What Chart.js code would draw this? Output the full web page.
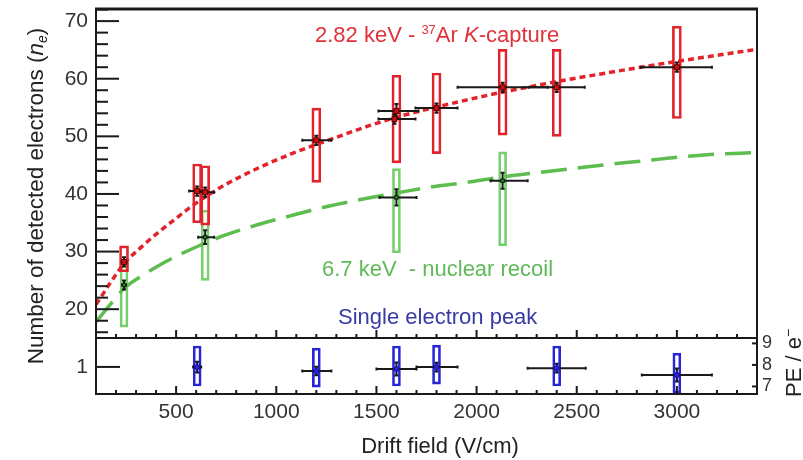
<!DOCTYPE html>
<html><head><meta charset="utf-8">
<script src="https://cdn.jsdelivr.net/npm/chart.js@4/dist/chart.umd.min.js"></script>
<style>html,body{margin:0;padding:0;background:#fff;}canvas{display:block}</style>
</head><body>
<canvas id="c" width="803" height="460"></canvas>
<script>
// ---------------- data ----------------
const xTickValues = [500, 1000, 1500, 2000, 2500, 3000];
const yTickValues = [20, 30, 40, 50, 60, 70];
const ybTickValues = [1];
const yrTickValues = [7, 8, 9];

// 2.82 keV - 37Ar K-capture (red)
const arField   = [240, 605, 645, 1200, 1590, 1600, 1800, 2130, 2400, 3000];
const arNe      = [28.2, 40.5, 40.3, 49.3, 53.0, 54.4, 54.9, 58.5, 58.5, 62.0];
const arFieldLo = [228, 565, 605, 1130, 1510, 1510, 1695, 1905, 2260, 2820];
const arFieldHi = [252, 645, 690, 1275, 1695, 1710, 1905, 2355, 2540, 3175];
const arStat    = [0.8, 0.8, 0.8, 0.8, 0.8, 1.2, 0.8, 0.8, 0.8, 0.8];
const arBoxField = [240, 605, 645, 1200, 1600, 1800, 2130, 2400, 3000];
const arBoxLo    = [26.5, 35.0, 34.6, 42.0, 45.4, 47.0, 50.2, 50.0, 53.1];
const arBoxHi    = [31.0, 45.2, 44.9, 54.9, 60.6, 61.0, 65.1, 65.1, 69.1];

// 6.7 keV - nuclear recoil (green)
const nrField   = [240, 645, 1600, 2130];
const nrNe      = [24.2, 32.5, 39.4, 42.3];
const nrFieldLo = [230, 610, 1515, 2070];
const nrFieldHi = [250, 690, 1700, 2255];
const nrStat    = [0.8, 1.2, 1.4, 1.4];
const nrBoxLo   = [16.9, 25.0, 29.8, 31.0];
const nrBoxHi   = [27.7, 37.2, 44.4, 47.3];

// Single electron peak (blue), PE / e-
const seField   = [605, 1200, 1600, 1800, 2400, 3000];
const sePE      = [7.90, 7.72, 7.81, 7.90, 7.85, 7.53];
const seFieldLo = [585, 1130, 1500, 1700, 2255, 2825];
const seFieldHi = [625, 1275, 1700, 1905, 2545, 3175];
const seStat    = [0.25, 0.2, 0.3, 0.2, 0.2, 0.3];
const seBoxLo   = [7.02, 6.97, 7.02, 7.11, 7.02, 6.69];
const seBoxHi   = [8.88, 8.78, 8.88, 8.92, 8.88, 8.55];

// fitted curves
const curveField = [100, 180, 240, 330, 410, 490, 575, 660, 740, 910, 1070, 1200, 1290, 1460, 1620, 1790, 1950, 2120, 2280, 2480, 2650, 2820, 2980, 3150, 3400];
const curveRed   = [20.8, 25.0, 27.9, 30.9, 33.3, 35.5, 37.8, 39.8, 41.5, 44.5, 46.9, 48.6, 49.7, 51.8, 53.5, 55.0, 56.3, 57.6, 58.7, 60.0, 61.0, 62.0, 62.9, 63.8, 65.1];
const curveGreen = [17.8, 21.2, 23.6, 25.8, 27.5, 29.0, 30.4, 31.7, 32.8, 34.7, 36.2, 37.4, 38.1, 39.3, 40.3, 41.3, 42.0, 42.9, 43.6, 44.4, 45.1, 45.7, 46.3, 46.8, 47.2];

// ---------------- styles ----------------
const RED = '#e3232b', RED_TXT = '#e0323a', GREEN = '#5dbd4f', GREEN_BOX = '#74cf6c', GREEN_TXT = '#5fb957';
const BLUE = '#2626d6', BLUE_TXT = '#3a3aa6', INK = '#1a1a1a', LBL = '#333';
const FONT = "'Liberation Sans', Arial, sans-serif";

const pts = (xs, ys) => xs.map((x, i) => ({x, y: ys[i]}));
const boxes = (xs, lo, hi) => xs.map((x, i) => ({x, y: [lo[i], hi[i]]}));

const boxDs = (data, color, axis, w) => ({
  type: 'bar', data, xAxisID: 'x', yAxisID: axis, barThickness: w, grouped: false,
  borderWidth: 2, borderSkipped: false, borderColor: color, backgroundColor: 'rgba(255,255,255,0)', order: 5
});

const datasets = [
  boxDs(boxes(arBoxField, arBoxLo, arBoxHi), RED, 'y', 9),
  boxDs(boxes(nrField, nrBoxLo, nrBoxHi), GREEN_BOX, 'y', 8),
  boxDs(boxes(seField, seBoxLo, seBoxHi), BLUE, 'yr', 8),
  { type: 'line', data: pts(curveField, curveGreen), yAxisID: 'y', borderColor: GREEN, borderWidth: 3.5,
    borderDash: [26, 11], pointRadius: 0, fill: false, cubicInterpolationMode: 'monotone', order: 4 },
  { type: 'line', data: pts(curveField, curveRed), yAxisID: 'y', borderColor: RED, borderWidth: 3.5,
    borderDash: [6, 4], pointRadius: 0, fill: false, cubicInterpolationMode: 'monotone', order: 3 },
  { type: 'scatter', data: pts(nrField, nrNe), yAxisID: 'y', pointStyle: 'rect', pointRadius: 2.5,
    backgroundColor: '#2a8a2a', borderColor: '#111', borderWidth: 1, xLo: nrFieldLo, xHi: nrFieldHi, yErr: nrStat, order: 1 },
  { type: 'scatter', data: pts(arField, arNe), yAxisID: 'y', pointStyle: 'rect', pointRadius: 3.5,
    backgroundColor: '#d01010', borderColor: '#500', borderWidth: 1, xLo: arFieldLo, xHi: arFieldHi, yErr: arStat, order: 1 },
  { type: 'scatter', data: pts(seField, sePE), yAxisID: 'yr', pointStyle: 'circle', pointRadius: 2.5,
    backgroundColor: BLUE, borderColor: '#1010a0', borderWidth: 1, xLo: seFieldLo, xHi: seFieldHi, yErr: seStat, order: 0 }
];

function richText(ctx, segs, x, y, align) {
  let w = 0;
  segs.forEach(s => { ctx.font = s.font; w += ctx.measureText(s.t).width; });
  let cx = align === 'center' ? x - w / 2 : x;
  segs.forEach(s => {
    ctx.font = s.font; ctx.fillStyle = s.color;
    ctx.fillText(s.t, cx, y + (s.dy || 0));
    cx += ctx.measureText(s.t).width;
  });
}

const decor = {
  id: 'decor',
  beforeDatasetDraw(chart, args) {
    const ds = chart.data.datasets[args.index];
    if (!ds.xLo) return;
    const ctx = chart.ctx, xs = chart.scales.x, ys = chart.scales[ds.yAxisID];
    ctx.save();
    ctx.strokeStyle = INK; ctx.lineWidth = 2; ctx.setLineDash([]);
    ds.data.forEach((p, i) => {
      const py = ys.getPixelForValue(p.y), px = xs.getPixelForValue(p.x);
      const x1 = xs.getPixelForValue(ds.xLo[i]), x2 = xs.getPixelForValue(ds.xHi[i]);
      const y1 = ys.getPixelForValue(p.y - ds.yErr[i]), y2 = ys.getPixelForValue(p.y + ds.yErr[i]);
      ctx.beginPath();
      ctx.moveTo(x1, py); ctx.lineTo(x2, py);
      ctx.moveTo(x1, py - 1.5); ctx.lineTo(x1, py + 1.5);
      ctx.moveTo(x2, py - 1.5); ctx.lineTo(x2, py + 1.5);
      ctx.moveTo(px, y1); ctx.lineTo(px, y2);
      ctx.moveTo(px - 2, y1); ctx.lineTo(px + 2, y1);
      ctx.moveTo(px - 2, y2); ctx.lineTo(px + 2, y2);
      ctx.stroke();
    });
    ctx.restore();
  },
  afterDraw(chart) {
    const ctx = chart.ctx, xs = chart.scales.x, ys = chart.scales.y, yb = chart.scales.yb, yr = chart.scales.yr;
    const L = xs.left, R = xs.right, T = ys.top, M = ys.bottom, B = yb.bottom;
    ctx.save();
    ctx.setLineDash([]);
    ctx.fillStyle = INK;
    for (let v = 16; v <= 72; v += 2) {
      const py = ys.getPixelForValue(v);
      const len = (v % 10 === 0) ? 23 : 12;
      ctx.fillRect(L, py - 1, len, 2);
    }
    ybTickValues.forEach(v => { const py = yb.getPixelForValue(v); ctx.fillRect(L, py - 1, 24, 2); });
    yrTickValues.forEach(v => { const py = yr.getPixelForValue(v); ctx.fillRect(R - 5, py - 1, 5, 2); });
    for (let v = 100; v <= 3400; v += 100) {
      const px = xs.getPixelForValue(v);
      const len = (v % 500 === 0) ? 8 : 4;
      ctx.fillRect(px - 1, M - len, 2, len);
      ctx.fillRect(px - 1, B - len, 2, len);
    }
    ctx.strokeStyle = INK;
    ctx.lineWidth = 2;
    ctx.strokeRect(L, T, R - L, B - T);
    ctx.beginPath(); ctx.moveTo(L, M); ctx.lineTo(R, M); ctx.stroke();
    ctx.lineWidth = 3;
    ctx.beginPath(); ctx.moveTo(L - 1, T); ctx.lineTo(R + 1, T); ctx.stroke();

    ctx.textBaseline = 'alphabetic';
    ctx.textAlign = 'left';
    const f = (s, st) => (st || '') + ' ' + s + 'px ' + FONT;
    richText(ctx, [
      {t: '2.82 keV - ', font: f(22), color: RED_TXT},
      {t: '37', font: f(13), color: RED_TXT, dy: -8},
      {t: 'Ar ', font: f(22), color: RED_TXT},
      {t: 'K', font: f(22, 'italic'), color: RED_TXT},
      {t: '-capture', font: f(22), color: RED_TXT}
    ], 315, 42, 'left');
    richText(ctx, [{t: '6.7 keV  - nuclear recoil', font: f(22), color: GREEN_TXT}], 322, 276, 'left');
    richText(ctx, [{t: 'Single electron peak', font: f(22), color: BLUE_TXT}], 338, 324, 'left');
    richText(ctx, [{t: 'Drift field (V/cm)', font: f(22), color: '#222'}], 440, 453, 'center');
    ctx.save();
    ctx.translate(43, 196); ctx.rotate(-Math.PI / 2);
    richText(ctx, [
      {t: 'Number of detected electrons (', font: f(22.5), color: '#222'},
      {t: 'n', font: f(22.5, 'italic'), color: '#222'},
      {t: 'e', font: f(14, 'italic'), color: '#222', dy: 4},
      {t: ')', font: f(22.5), color: '#222'}
    ], 0, 0, 'center');
    ctx.restore();
    ctx.save();
    ctx.translate(801, 397); ctx.rotate(-Math.PI / 2);
    richText(ctx, [
      {t: 'PE / e', font: f(22), color: '#222'},
      {t: '\u2212', font: f(14), color: '#222', dy: -8}
    ], 0, 0, 'left');
    ctx.restore();
    ctx.restore();
  }
};

const ticksFrom = arr => s => { s.ticks = arr.map(v => ({value: v})); };
const fitTo = (w, h) => s => {
  if (w !== null) s.width = w;
  if (h !== null) s.height = h;
  s.paddingTop = 0; s.paddingBottom = 0; s.paddingLeft = 0; s.paddingRight = 0;
};
const noGrid = {display: false, drawTicks: false};
const plain = v => String(v);

new Chart(document.getElementById('c'), {
  type: 'scatter',
  data: {datasets},
  options: {
    responsive: false, animation: false, devicePixelRatio: 1,
    layout: {autoPadding: false, padding: {left: 0, right: 0, top: 9, bottom: 0}},
    plugins: {legend: {display: false}, tooltip: {enabled: false}},
    scales: {
      x: {type: 'linear', position: 'bottom', min: 100, max: 3400, offset: false,
          grid: {display: false, drawTicks: false, offset: false}, border: {display: false},
          afterBuildTicks: ticksFrom(xTickValues), afterFit: fitTo(null, 66),
          ticks: {font: {family: FONT, size: 21}, color: LBL, padding: 6, maxRotation: 0, autoSkip: false, callback: plain}},
      y: {type: 'linear', position: 'left', stack: 'L', stackWeight: 329, weight: 1, min: 15, max: 72.1,
          beginAtZero: false, grid: noGrid, border: {display: false},
          afterBuildTicks: ticksFrom(yTickValues), afterFit: fitTo(96, null),
          ticks: {font: {family: FONT, size: 21}, color: LBL, padding: 8, autoSkip: false, callback: plain}},
      yb: {type: 'linear', position: 'left', stack: 'L', stackWeight: 56, weight: 0, min: 0.855, max: 1.155,
          grid: noGrid, border: {display: false},
          afterBuildTicks: ticksFrom(ybTickValues), afterFit: fitTo(96, null),
          ticks: {font: {family: FONT, size: 21}, color: LBL, padding: 8, autoSkip: false, callback: plain}},
      yrt: {type: 'linear', position: 'right', stack: 'R', stackWeight: 329, weight: 0, min: 0, max: 1,
          grid: noGrid, border: {display: false}, ticks: {display: false}, afterFit: fitTo(46, null)},
      yr: {type: 'linear', position: 'right', stack: 'R', stackWeight: 56, weight: 1, min: 6.65, max: 9.25,
          beginAtZero: false, grid: noGrid, border: {display: false},
          afterBuildTicks: ticksFrom(yrTickValues), afterFit: fitTo(46, null),
          ticks: {font: {family: FONT, size: 18}, color: LBL, padding: 5, autoSkip: false, callback: plain}}
    }
  },
  plugins: [decor]
});
</script>
</body></html>
